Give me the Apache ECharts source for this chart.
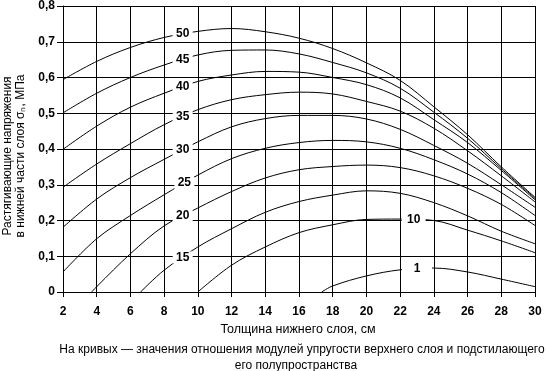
<!DOCTYPE html>
<html><head><meta charset="utf-8">
<script src="https://cdn.jsdelivr.net/npm/echarts@6/dist/echarts.min.js"></script>
<style>html,body{margin:0;padding:0;background:#fff}#c{width:547px;height:371px}</style>
</head><body><div id="c"></div>
<script>
// X positions (cm) and stress values (MPa)
const xEven = [2,4,6,8,10,12,14,16,18,20,22,24,26,28,30];
const k50 = [0.594,0.645,0.684,0.712,0.729,0.737,0.728,0.710,0.681,0.641,0.592,0.518,0.440,0.350,0.265];
const k45 = [0.501,0.556,0.600,0.635,0.663,0.676,0.677,0.666,0.642,0.613,0.570,0.503,0.430,0.345,0.262];
const k40 = [0.399,0.464,0.517,0.556,0.589,0.607,0.617,0.615,0.600,0.580,0.543,0.482,0.418,0.340,0.258];
const k35 = [0.293,0.358,0.415,0.468,0.510,0.538,0.552,0.559,0.554,0.533,0.506,0.458,0.395,0.325,0.252];
const k30 = [0.181,0.260,0.320,0.371,0.420,0.462,0.485,0.494,0.494,0.484,0.455,0.410,0.360,0.300,0.237];
const k25 = [0.056,0.149,0.214,0.272,0.327,0.373,0.402,0.418,0.424,0.420,0.402,0.370,0.330,0.278,0.214];
const x20 = [3.7,4,6,8,10,12,14,16,18,20,22,24,26,28,30];
const k20 = [0,0.015,0.107,0.185,0.235,0.281,0.319,0.342,0.351,0.355,0.348,0.325,0.290,0.245,0.186];
const x15 = [6.6,8,10,12,14,16,18,20,22,24,26,28,30];
const k15 = [0,0.061,0.126,0.177,0.223,0.253,0.271,0.283,0.276,0.250,0.213,0.170,0.135];
const x10 = [10,12,14,16,18,20,22,24,26,28,30];
const k10 = [0,0.075,0.126,0.166,0.188,0.203,0.204,0.200,0.173,0.143,0.110];
const x1 = [17.35,18,20,22,24,26,28,30];
const k1 = [0,0.017,0.045,0.062,0.067,0.056,0.036,0.015];
const curveNames = ['50','45','40','35','30','25','20','15','10','1'];
const yTickLabels = ['0','0,1','0,2','0,3','0,4','0,5','0,6','0,7','0,8'];
const xTitle = 'Толщина нижнего слоя, см';
const yTitle1 = 'Растягивающие напряжения';
const yTitle2 = 'в нижней части слоя σₙ, МПа';
const note1 = 'На кривых — значения отношения модулей упругости верхнего слоя и подстилающего';
const note2 = 'его полупространства';

const F = '"Liberation Sans", Arial, sans-serif';
function pairs(xs, ys){ return xs.map((x,i)=>[x, ys[i]]); }
function interp(xs, ys, x){
  for(let i=0;i<xs.length-1;i++){
    if(x>=xs[i] && x<=xs[i+1]){ const t=(x-xs[i])/(xs[i+1]-xs[i]); return ys[i]+t*(ys[i+1]-ys[i]); }
  }
  return ys[ys.length-1];
}
const curves = [
  {xs:xEven, ys:k50, lx:9.1, w:20},
  {xs:xEven, ys:k45, lx:9.1, w:20},
  {xs:xEven, ys:k40, lx:9.1, w:20},
  {xs:xEven, ys:k35, lx:9.1, w:20},
  {xs:xEven, ys:k30, lx:9.1, w:20},
  {xs:xEven, ys:k25, lx:9.2, w:20},
  {xs:x20, ys:k20, lx:9.1, w:20},
  {xs:x15, ys:k15, lx:9.1, w:20},
  {xs:x10, ys:k10, lx:22.8, w:24},
  {xs:x1, ys:k1, lx:23.0, w:30}
];
const series = curves.map((c,i)=>({
  type:'line', name:curveNames[i], data:pairs(c.xs,c.ys),
  smooth:0.35, symbol:'none', silent:true,
  lineStyle:{color:'#000', width:1}, z:3,
  markPoint:{
    symbol:'rect', symbolSize:[c.w,12], silent:true, animation:false,
    itemStyle:{color:'#fff'},
    label:{show:true, formatter:curveNames[i], color:'#000', fontSize:12, fontWeight:'bold', fontFamily:F},
    data:[{coord:[c.lx, interp(c.xs,c.ys,c.lx)]}]
  }
}));

const chart = echarts.init(document.getElementById('c'), null, {renderer:'canvas'});
chart.setOption({
  animation:false,
  backgroundColor:'#fff',
  grid:{left:63, right:12, top:4, bottom:79, containLabel:false},
  xAxis:{type:'value', min:2, max:30, interval:2,
    axisLine:{show:true, onZero:false, lineStyle:{color:'#000', width:1}},
    axisTick:{show:true, length:5, lineStyle:{color:'#000'}},
    axisLabel:{color:'#000', fontSize:12, fontWeight:'bold', fontFamily:F, margin:14},
    splitLine:{show:true, lineStyle:{color:'#000', width:1}}},
  yAxis:{type:'value', min:0, max:0.8, interval:0.1,
    axisLine:{show:true, lineStyle:{color:'#000', width:1}},
    axisTick:{show:true, length:6, lineStyle:{color:'#000'}},
    axisLabel:{color:'#000', fontSize:12, fontWeight:'bold', fontFamily:F, margin:8,
      formatter:(v)=>yTickLabels[Math.round(v*10)]},
    splitLine:{show:true, lineStyle:{color:'#000', width:1}}},
  series:series,
  graphic:[
    {type:'text', x:8, y:156, rotation:Math.PI/2, style:{text:yTitle1, font:'12px '+F, fill:'#000', align:'center', verticalAlign:'middle'}},
    {type:'text', x:21, y:156, rotation:Math.PI/2, style:{text:yTitle2, font:'12px '+F, fill:'#000', align:'center', verticalAlign:'middle'}},
    {type:'text', x:298, y:330, style:{text:xTitle, font:'12.5px '+F, fill:'#000', align:'center', verticalAlign:'middle'}},
    {type:'text', x:302, y:350, style:{text:note1, font:'12px '+F, fill:'#000', align:'center', verticalAlign:'middle'}},
    {type:'text', x:296, y:366, style:{text:note2, font:'12px '+F, fill:'#000', align:'center', verticalAlign:'middle'}}
  ]
});
</script></body></html>
